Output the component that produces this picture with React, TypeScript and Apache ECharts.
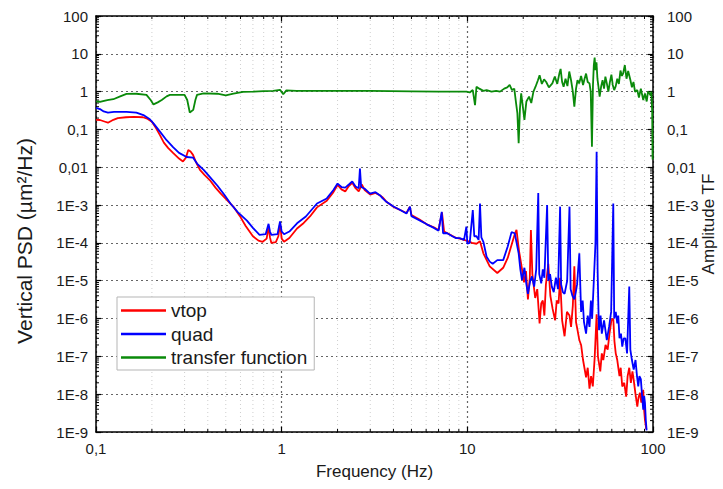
import React, { useEffect, useRef } from "react";
import * as echarts from "echarts";

// ---- Data (frequency in Hz, value) ----
const vtopData: [number, number][] = [
  [0.1, 0.18], [0.105, 0.178], [0.112, 0.16], [0.116, 0.151], [0.124, 0.18], [0.131, 0.2], [0.145, 0.21],
  [0.16, 0.215], [0.179, 0.21], [0.19, 0.19], [0.2, 0.16], [0.21, 0.11], [0.221, 0.071], [0.232, 0.045],
  [0.245, 0.032], [0.26, 0.024], [0.28, 0.017], [0.294, 0.0142], [0.305, 0.018], [0.314, 0.0286],
  [0.323, 0.026], [0.333, 0.0213], [0.345, 0.014], [0.363, 0.0085], [0.385, 0.0062], [0.41, 0.0046],
  [0.44, 0.0029], [0.47, 0.002], [0.505, 0.0014], [0.55, 0.0009], [0.596, 0.00051], [0.64, 0.00028],
  [0.7, 0.00015], [0.75, 0.000115], [0.79, 0.000107], [0.83, 0.00013], [0.85, 0.00027], [0.865, 0.00014],
  [0.88, 0.0001], [0.93, 0.000105], [0.96, 0.00015], [0.98, 0.00033], [1.0, 0.00013], [1.03, 0.000107],
  [1.1, 0.000135], [1.21, 0.00024], [1.3, 0.00032], [1.42, 0.0005], [1.55, 0.00087], [1.75, 0.0013],
  [1.9, 0.0022], [2.0, 0.0034], [2.1, 0.0026], [2.2, 0.0023], [2.3, 0.0032], [2.4, 0.0039], [2.5, 0.0028],
  [2.6, 0.0023], [2.7, 0.0035], [2.8, 0.0025], [3.0, 0.0019], [3.2, 0.0021], [3.39, 0.0018], [3.5, 0.0016],
  [3.68, 0.0012], [4.0, 0.0009], [4.35, 0.00074], [4.7, 0.00062], [4.9, 0.0009], [5.0, 0.00055],
  [5.5, 0.00042], [6.05, 0.00031], [6.6, 0.00026], [7.0, 0.00022], [7.3, 0.00064], [7.5, 0.0002],
  [8.0, 0.00017], [8.7, 0.000135], [9.1, 0.00013], [9.9, 0.000115], [10.6, 0.0001], [11.2, 0.000095],
  [11.7, 0.00011], [12.2, 0.000053], [13.2, 0.000024], [14.5, 0.000016], [15.6, 0.000022], [16.5, 0.00004],
  [17.3, 0.000088], [18.0, 0.00017], [18.4, 0.00022], [19.0, 0.00006], [19.5, 0.000028], [20.2, 0.000009],
  [20.7, 0.000018], [21.2, 0.0000032], [21.7, 0.000012], [22.0, 0.00022], [22.4, 0.000015],
  [23.2, 0.0000035], [23.8, 0.000006], [24.5, 0.00000074], [25.0, 0.0000025], [25.5, 0.000003],
  [26.0, 0.0000012], [26.5, 0.000008], [27.3, 0.000028], [28.0, 0.000004], [28.8, 0.0000018],
  [29.7, 0.0000009], [30.3, 0.000003], [31.0, 0.0000025], [31.6, 0.000012], [32.4, 0.0000009],
  [33.4, 0.00000034], [34.4, 0.0000015], [35.5, 0.0000012], [36.2, 0.0000006], [37.0, 0.0000022],
  [37.7, 0.000024], [38.5, 0.0000008], [39.2, 0.0000005], [40.1, 0.00000027], [41.0, 0.0000002],
  [42.0, 0.00000008], [43.6, 0.000000028], [44.5, 0.00000005], [45.5, 0.000000014], [46.4, 0.00000003],
  [47.4, 0.000000016], [48.5, 0.00000009], [49.7, 0.0000013], [50.5, 0.0000001], [52, 0.00000004],
  [53, 0.00000012], [54, 0.00000008], [55.5, 0.0000002], [57, 0.00000015], [58.3, 0.0000004],
  [59.7, 0.0000009], [61.1, 0.000001], [62, 0.00000025], [63, 0.00000012], [64.2, 0.00000008],
  [66, 0.00000003], [67, 0.00000005], [68.3, 0.000000016], [70, 0.00000002], [71.7, 0.0000000086],
  [73, 0.00000003], [74.5, 0.00000005], [76, 0.00000002], [77.5, 0.00000004], [78.7, 0.000000024],
  [80.5, 0.00000001], [82.3, 0.0000000047], [83.5, 0.000000008], [85, 0.000000011], [86.5, 0.000000006],
  [88.6, 0.000000013], [89.5, 0.000000004], [90.5, 0.0000000021], [92, 0.0000000012],
];

const quadData: [number, number][] = [
  [0.1, 0.37], [0.105, 0.347], [0.11, 0.3], [0.116, 0.28], [0.125, 0.29], [0.146, 0.29], [0.165, 0.28],
  [0.18, 0.24], [0.195, 0.186], [0.205, 0.14], [0.221, 0.0875], [0.24, 0.052], [0.26, 0.034], [0.28, 0.024],
  [0.308, 0.0187], [0.333, 0.018], [0.35, 0.0125], [0.38, 0.0085], [0.41, 0.0056], [0.45, 0.0033],
  [0.49, 0.0019], [0.53, 0.0011], [0.58, 0.00065], [0.65, 0.00039], [0.7, 0.00025], [0.76, 0.000163],
  [0.82, 0.00017], [0.85, 0.00032], [0.865, 0.0002], [0.88, 0.000163], [0.95, 0.00017], [0.98, 0.00037],
  [1.0, 0.0002], [1.03, 0.00017], [1.1, 0.0002], [1.21, 0.00033], [1.35, 0.0005], [1.55, 0.0011],
  [1.75, 0.0015], [1.9, 0.0025], [2.0, 0.0037], [2.1, 0.003], [2.2, 0.0029], [2.3, 0.0035], [2.4, 0.0042],
  [2.5, 0.0031], [2.6, 0.0028], [2.64, 0.0093], [2.68, 0.003], [2.8, 0.0027], [2.99, 0.002], [3.2, 0.0022],
  [3.39, 0.0018], [3.5, 0.0015], [3.68, 0.0012], [4.0, 0.00092], [4.35, 0.00074], [4.7, 0.0006],
  [4.91, 0.00091], [5.0, 0.00051], [5.5, 0.0004], [6.05, 0.00031], [6.6, 0.00025], [7.0, 0.00021],
  [7.28, 0.00066], [7.4, 0.00018], [7.75, 0.000183], [8.3, 0.00015], [8.7, 0.000134], [9.1, 0.000134],
  [9.6, 0.00012], [9.88, 0.00027], [10.0, 0.000095], [10.3, 0.0001], [10.7, 0.00074], [10.9, 0.00015],
  [11.2, 0.00015], [11.5, 0.00012], [11.7, 0.0011], [11.9, 0.00014], [12.2, 0.000107], [12.7, 0.000043],
  [13.2, 0.000032], [13.7, 0.000028], [14.5, 0.000035], [15.6, 0.000035], [16.5, 0.00008], [17.3, 0.000193],
  [18.0, 0.00018], [18.9, 0.000053], [19.3, 0.00002], [19.7, 0.0000104], [20.3, 0.000022],
  [20.8, 0.000008], [21.2, 0.0000045], [21.8, 0.00001], [22.3, 0.000013], [22.9, 0.000007],
  [23.5, 0.00002], [24.1, 0.0021], [24.4, 0.000015], [25.0, 0.0000085], [25.5, 0.00002], [26.0, 0.000012],
  [26.9, 0.001], [27.3, 0.00001], [27.9, 0.000015], [28.5, 0.000007], [29.2, 0.000005], [30.0, 0.000012],
  [30.8, 0.000006], [31.6, 0.00091], [32.0, 0.000008], [32.7, 0.000005], [33.4, 0.0000045],
  [34.5, 0.00001], [35.5, 0.00091], [36.0, 0.000006], [36.8, 0.000004], [37.7, 0.0000032],
  [38.4, 0.000005], [39.0, 0.000008], [40.1, 0.000053], [41.0, 0.0000015], [41.8, 0.000003],
  [42.5, 0.0000008], [43.6, 0.0000004], [44.5, 0.0000012], [45.5, 0.0000006], [46.3, 0.000003],
  [47.0, 0.000001], [48.0, 0.00001], [49.0, 0.0001], [49.7, 0.0257], [50.3, 0.00002], [50.8, 0.000002],
  [51.2, 0.00000049], [52.2, 0.0000012], [53.0, 0.0000004], [54.5, 0.0000009], [56.4, 0.00000027],
  [58.0, 0.0000006], [59.5, 0.0000015], [61.1, 0.0011], [61.8, 0.000001], [63.0, 0.0000015],
  [64.2, 0.00000074], [65.0, 0.0000012], [66.0, 0.0000003], [67.2, 0.0000004], [68.3, 0.00000018],
  [69.5, 0.0000003], [71.0, 0.0000003], [72.5, 0.00000012], [74.5, 0.000007], [75.5, 0.00000015],
  [77.0, 0.00000008], [78.7, 0.000000045], [80.5, 0.00000008], [82.0, 0.00000003], [83.3, 0.000000016],
  [84.5, 0.00000003], [86.0, 0.000000025], [87.5, 0.000000008], [88.6, 0.0000000039], [89.6, 0.000000009],
  [90.5, 0.000000006], [91.5, 0.000000002], [92.4, 0.0000000011],
];

const tfData: [number, number][] = [
  [0.1, 0.55], [0.105, 0.54], [0.115, 0.6], [0.124, 0.63], [0.135, 0.75], [0.146, 0.87], [0.165, 0.88],
  [0.187, 0.82], [0.197, 0.6], [0.204, 0.46], [0.215, 0.52], [0.226, 0.6], [0.24, 0.75], [0.25, 0.82],
  [0.3, 0.82], [0.31, 0.6], [0.32, 0.28], [0.334, 0.33], [0.343, 0.6], [0.35, 0.82], [0.38, 0.9],
  [0.45, 0.88], [0.5, 0.8], [0.55, 0.88], [0.62, 0.99], [0.7, 1.0], [0.8, 1.03], [0.9, 1.05], [0.98, 1.12],
  [1.02, 0.85], [1.06, 1.08], [1.2, 1.05], [1.5, 1.05], [2.0, 1.05], [3.0, 1.05], [5.0, 1.02], [7.0, 1.0],
  [9.9, 1.0], [10.3, 0.95], [10.7, 1.1], [11.0, 0.44], [11.2, 1.35], [11.6, 1.2], [12.2, 1.05], [12.7, 1.1],
  [13.5, 1.0], [14.3, 1.05], [15.0, 1.0], [15.8, 1.2], [16.4, 1.3], [16.9, 1.5], [17.4, 1.1], [17.9, 1.2],
  [18.3, 0.5], [18.6, 0.27], [18.9, 0.043], [19.2, 0.35], [19.5, 0.9], [19.8, 0.5], [20.3, 0.18],
  [20.8, 0.55], [21.5, 0.74], [22.1, 0.5], [22.7, 1.0], [23.3, 1.35], [24.0, 2.0], [24.5, 2.7], [25.2, 1.6],
  [25.9, 2.1], [26.6, 1.8], [27.5, 1.3], [28.7, 1.65], [29.6, 2.5], [30.5, 1.6], [31.3, 3.0], [31.8, 4.0],
  [32.4, 1.8], [33.0, 1.35], [33.8, 2.2], [34.6, 1.4], [35.4, 3.4], [36.2, 2.0], [37.0, 1.0], [37.7, 0.4],
  [38.5, 1.2], [39.2, 2.0], [40.0, 1.65], [41.0, 2.6], [42.0, 1.5], [42.8, 2.2], [43.6, 3.0], [44.5, 1.8],
  [45.5, 1.65], [46.2, 1.0], [46.9, 0.035], [47.5, 1.5], [48.0, 5.0], [48.5, 8.0], [49.0, 3.7], [49.6, 6.0],
  [50.2, 2.2], [51.0, 1.2], [51.6, 0.74], [52.6, 1.4], [53.5, 2.0], [54.5, 1.2], [55.4, 2.5], [56.4, 1.65],
  [57.5, 1.0], [58.6, 1.8], [59.7, 2.8], [60.7, 1.5], [61.8, 1.1], [63.0, 1.4], [64.2, 2.2], [65.5, 1.6],
  [66.8, 3.6], [68.0, 2.6], [69.0, 3.0], [70.5, 5.0], [72.0, 2.2], [73.5, 3.5], [75.6, 2.0], [77.0, 1.3],
  [78.5, 1.8], [80.0, 1.0], [82.3, 1.1], [84.0, 0.7], [86.0, 1.2], [88.6, 0.6], [90.5, 0.9], [92.5, 0.55],
  [94.0, 1.0], [95.5, 0.9], [97.0, 0.8], [98.0, 1.0], [99.0, 0.3], [99.5, 0.016],
];

const seriesNames = ["vtop", "quad", "transfer function"];
const xRange = [0.1, 100];
const yRange = [1e-9, 100];
const minorMultipliers = [2, 3, 4, 5, 6, 7, 8, 9];

const FONT = "'Liberation Sans', Arial, sans-serif";
const TXT = "#1a1a1a";

const fmtX = (v: number) => {
  const e = Math.round(Math.log10(v));
  if (e === -1) return "0,1";
  return String(Math.round(Math.pow(10, e)));
};
const fmtY = (v: number) => {
  const e = Math.round(Math.log10(v));
  if (e >= 0) return String(Math.round(Math.pow(10, e)));
  if (e === -1) return "0,1";
  if (e === -2) return "0,01";
  return "1E" + e;
};

export default function App() {
  const ref = useRef<HTMLDivElement>(null);
  useEffect(() => {
    if (!ref.current) return;
    const chart = echarts.init(ref.current, undefined, { renderer: "svg" });

    const minorRender = (_params: any, api: any) => {
      const children: any[] = [];
      const tl = api.coord([xRange[0], yRange[1]]);
      const br = api.coord([xRange[1], yRange[0]]);
      const left = tl[0], top = tl[1], right = br[0], bottom = br[1];
      for (let e = Math.log10(xRange[0]); e < Math.log10(xRange[1]) - 0.01; e++) {
        const dec = Math.pow(10, Math.round(e));
        for (const m of minorMultipliers) {
          const x = api.coord([dec * m, yRange[0]])[0];
          children.push({
            type: "line",
            shape: { x1: x, y1: top, x2: x, y2: bottom },
            style: { stroke: "#cfcfcf", lineWidth: 1, lineDash: [1, 3] },
          });
          children.push({ type: "line", shape: { x1: x, y1: bottom, x2: x, y2: bottom - 3 }, style: { stroke: "#000", lineWidth: 1 } });
          children.push({ type: "line", shape: { x1: x, y1: top, x2: x, y2: top + 3 }, style: { stroke: "#000", lineWidth: 1 } });
        }
      }
      for (let e = Math.log10(yRange[0]); e < Math.log10(yRange[1]) - 0.01; e++) {
        const dec = Math.pow(10, Math.round(e));
        for (const m of minorMultipliers) {
          const y = api.coord([xRange[0], dec * m])[1];
          children.push({ type: "line", shape: { x1: left, y1: y, x2: left + 3, y2: y }, style: { stroke: "#000", lineWidth: 1 } });
          children.push({ type: "line", shape: { x1: right, y1: y, x2: right - 3, y2: y }, style: { stroke: "#000", lineWidth: 1 } });
        }
      }
      return { type: "group", children };
    };

    const axisLine = { show: true, onZero: false, lineStyle: { color: "#000", width: 1.5 } };
    const majorTick = { show: true, inside: true, length: 5, lineStyle: { color: "#000", width: 1.2 } };
    const labelStyle = { color: TXT, fontSize: 15, fontFamily: FONT };

    chart.setOption({
      animation: false,
      backgroundColor: "#fff",
      grid: { left: 96, top: 16, width: 557, height: 416, containLabel: false, outerBoundsMode: "none" },
      legend: {
        data: seriesNames,
        orient: "vertical",
        left: 117,
        top: 297,
        icon: "rect",
        itemWidth: 45,
        itemHeight: 2.5,
        itemGap: 4.5,
        padding: [4, 7, 3, 4],
        backgroundColor: "#fff",
        borderColor: "#b5b5b5",
        borderWidth: 1,
        borderRadius: 0,
        textStyle: { color: TXT, fontSize: 19, fontFamily: FONT },
      },
      xAxis: [
        {
          type: "log",
          logBase: 10,
          min: xRange[0],
          max: xRange[1],
          interval: 1,
          position: "bottom",
          axisLine,
          axisTick: majorTick,
          axisLabel: { ...labelStyle, margin: 9, formatter: fmtX },
          splitLine: { show: true, lineStyle: { color: "#666", width: 1.2, type: [2, 3] } },
          name: "Frequency (Hz)",
          nameLocation: "middle",
          nameGap: 31,
          nameTextStyle: { color: TXT, fontSize: 17, fontFamily: FONT },
        },
        {
          type: "log",
          logBase: 10,
          min: xRange[0],
          max: xRange[1],
          interval: 1,
          position: "top",
          axisLine,
          axisTick: majorTick,
          axisLabel: { show: false },
          splitLine: { show: false },
        },
      ],
      yAxis: [
        {
          type: "log",
          logBase: 10,
          min: yRange[0],
          max: yRange[1],
          interval: 1,
          position: "left",
          axisLine,
          axisTick: majorTick,
          axisLabel: { ...labelStyle, margin: 8, formatter: fmtY },
          splitLine: { show: true, lineStyle: { color: "#666", width: 1.2, type: [2, 3] } },
          name: "Vertical PSD (µm²/Hz)",
          nameLocation: "middle",
          nameGap: 61,
          nameMoveOverlap: false,
          nameTextStyle: { color: TXT, fontSize: 21, fontFamily: FONT, padding: [0, 34, 0, 0] },
        },
        {
          type: "log",
          logBase: 10,
          min: yRange[0],
          max: yRange[1],
          interval: 1,
          position: "right",
          axisLine,
          axisTick: majorTick,
          axisLabel: { ...labelStyle, margin: 14, formatter: fmtY },
          splitLine: { show: false },
          name: "Amplitude TF",
          nameLocation: "middle",
          nameGap: 47,
          nameMoveOverlap: false,
          nameTextStyle: { color: TXT, fontSize: 17, fontFamily: FONT },
        },
      ],
      series: [
        {
          type: "custom",
          name: "minor",
          xAxisIndex: 0,
          yAxisIndex: 0,
          silent: true,
          clip: false,
          data: [[xRange[0], yRange[0]]],
          renderItem: minorRender,
          z: 1,
        },
        {
          type: "line",
          name: "vtop",
          xAxisIndex: 0,
          yAxisIndex: 0,
          data: vtopData,
          showSymbol: false,
          lineStyle: { color: "#ff0000", width: 1.8 },
          itemStyle: { color: "#ff0000" },
          z: 3,
        },
        {
          type: "line",
          name: "quad",
          xAxisIndex: 0,
          yAxisIndex: 0,
          data: quadData,
          showSymbol: false,
          lineStyle: { color: "#0000ff", width: 1.8 },
          itemStyle: { color: "#0000ff" },
          z: 4,
        },
        {
          type: "line",
          name: "transfer function",
          xAxisIndex: 0,
          yAxisIndex: 1,
          data: tfData,
          showSymbol: false,
          lineStyle: { color: "#0a8a0a", width: 1.8 },
          itemStyle: { color: "#0a8a0a" },
          z: 5,
        },
      ],
    });
    return () => chart.dispose();
  }, []);

  return (
    <div
      ref={ref}
      style={{ position: "fixed", left: 0, top: 0, width: 723, height: 489, background: "#fff" }}
    />
  );
}
